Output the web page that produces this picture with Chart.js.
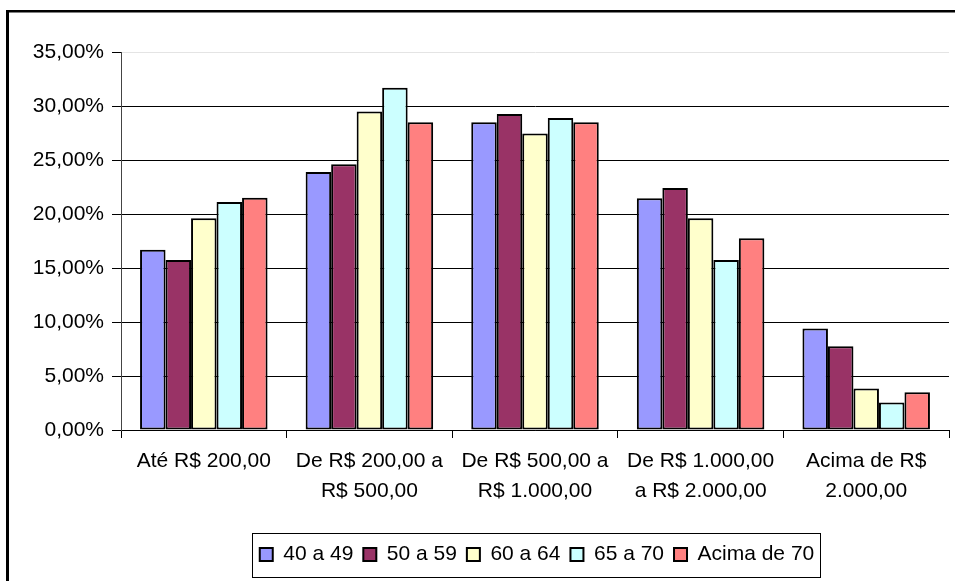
<!DOCTYPE html>
<html>
<head>
<meta charset="utf-8">
<script src="https://cdn.jsdelivr.net/npm/chart.js@4/dist/chart.umd.min.js"></script>
<style>
    html, body { margin: 0; padding: 0; background: #fff; }
    #wrap { width: 955px; height: 581px; position: relative; }
</style>
</head>
<body>
<div id="wrap"><canvas id="incomeChart" width="955" height="581"></canvas></div>
<script>
const categories = [
    ['Até R$ 200,00'],
    ['De R$ 200,00 a', 'R$ 500,00'],
    ['De R$ 500,00 a', 'R$ 1.000,00'],
    ['De R$ 1.000,00', 'a R$ 2.000,00'],
    ['Acima de R$', '2.000,00']
];
const seriesNames = ['40 a 49', '50 a 59', '60 a 64', '65 a 70', 'Acima de 70'];
const age40to49 = [16.7, 23.9, 28.5, 21.45, 9.4];
const age50to59 = [15.75, 24.6, 29.25, 22.4, 7.75];
const age60to64 = [19.6, 29.5, 27.45, 19.6, 3.85];
const age65to70 = [21.1, 31.7, 28.9, 15.75, 2.55];
const ageOver70 = [21.5, 28.5, 28.5, 17.75, 3.5];
const seriesColors = ['#9999FF', '#993366', '#FFFFCC', '#CCFFFF', '#FF8080'];
const yTicks = [0, 5, 10, 15, 20, 25, 30, 35];

const FONT = "'Liberation Sans', Arial, sans-serif";

function formatPct(v) {
    return v.toFixed(2).replace('.', ',') + '%';
}

// outer frame + box round the legend
const framePlugin = {
    id: 'frame',
    afterLayout(chart) {
        // centre the legend under the plot area instead of the whole canvas
        const legend = chart.legend;
        legend.left = chart.chartArea.left;
        legend.right = chart.chartArea.right + 4;
    },
    afterDraw(chart) {
        const ctx = chart.ctx;
        ctx.save();
        ctx.fillStyle = '#000';
        ctx.fillRect(6, 10, 3, 600);
        ctx.fillRect(6, 10, 1000, 2.5);

        const boxes = chart.legend.legendHitBoxes;
        if (boxes && boxes.length) {
            let minX = Infinity, maxX = -Infinity, minY = Infinity, maxY = -Infinity;
            boxes.forEach((b) => {
                minX = Math.min(minX, b.left);
                maxX = Math.max(maxX, b.left + b.width);
                minY = Math.min(minY, b.top);
                maxY = Math.max(maxY, b.top + b.height);
            });
            ctx.strokeStyle = '#000';
            ctx.lineWidth = 1;
            ctx.strokeRect(Math.round(minX - 8) + 0.5, Math.round(minY - 11) + 0.5,
                Math.round(maxX - minX + 14), Math.round(maxY - minY + 23));
        }
        ctx.restore();
    }
};

function setupChart() {
    const ctx = document.getElementById('incomeChart');
    const allSeries = [age40to49, age50to59, age60to64, age65to70, ageOver70];

    const data = {
        labels: categories,
        datasets: allSeries.map((values, idx) => ({
            label: seriesNames[idx],
            data: values,
            backgroundColor: seriesColors[idx],
            borderColor: '#000',
            borderWidth: 2,
            borderSkipped: false,
            categoryPercentage: 0.77,
            barPercentage: 1.0
        }))
    };

    return new Chart(ctx, {
        type: 'bar',
        data: data,
        plugins: [framePlugin],
        options: {
            responsive: false,
            animation: false,
            devicePixelRatio: 1,
            layout: {
                padding: {top: 52, right: 6, bottom: 6, left: 0}
            },
            scales: {
                x: {
                    afterFit: (scale) => { scale.height = 104; },
                    grid: {
                        offset: true,
                        drawOnChartArea: false,
                        drawTicks: true,
                        tickLength: 8,
                        tickColor: '#000'
                    },
                    border: {color: '#000', width: 1},
                    ticks: {
                        color: '#000',
                        font: {family: FONT, size: 21, lineHeight: 1.4},
                        padding: 9,
                        maxRotation: 0,
                        autoSkip: false
                    }
                },
                y: {
                    min: 0,
                    max: 35,
                    afterFit: (scale) => { scale.width = 121; },
                    afterBuildTicks: (scale) => {
                        scale.ticks = yTicks.map((v) => ({value: v}));
                    },
                    grid: {
                        color: (c) => (c.tick && c.tick.value === 35 ? '#e4e4e4' : '#000'),
                        tickColor: '#000',
                        tickLength: 9,
                        lineWidth: 1
                    },
                    border: {color: '#444', width: 1},
                    ticks: {
                        color: '#000',
                        font: {family: FONT, size: 21},
                        padding: 8,
                        callback: (v) => formatPct(v)
                    }
                }
            },
            plugins: {
                legend: {
                    position: 'bottom',
                    align: 'center',
                    labels: {
                        color: '#000',
                        font: {family: FONT, size: 21},
                        boxWidth: 13,
                        boxHeight: 13,
                        padding: 10
                    }
                },
                title: {display: false},
                tooltip: {enabled: false}
            }
        }
    });
}

function main() {
    setupChart();
}

main()
</script>
</body>
</html>
